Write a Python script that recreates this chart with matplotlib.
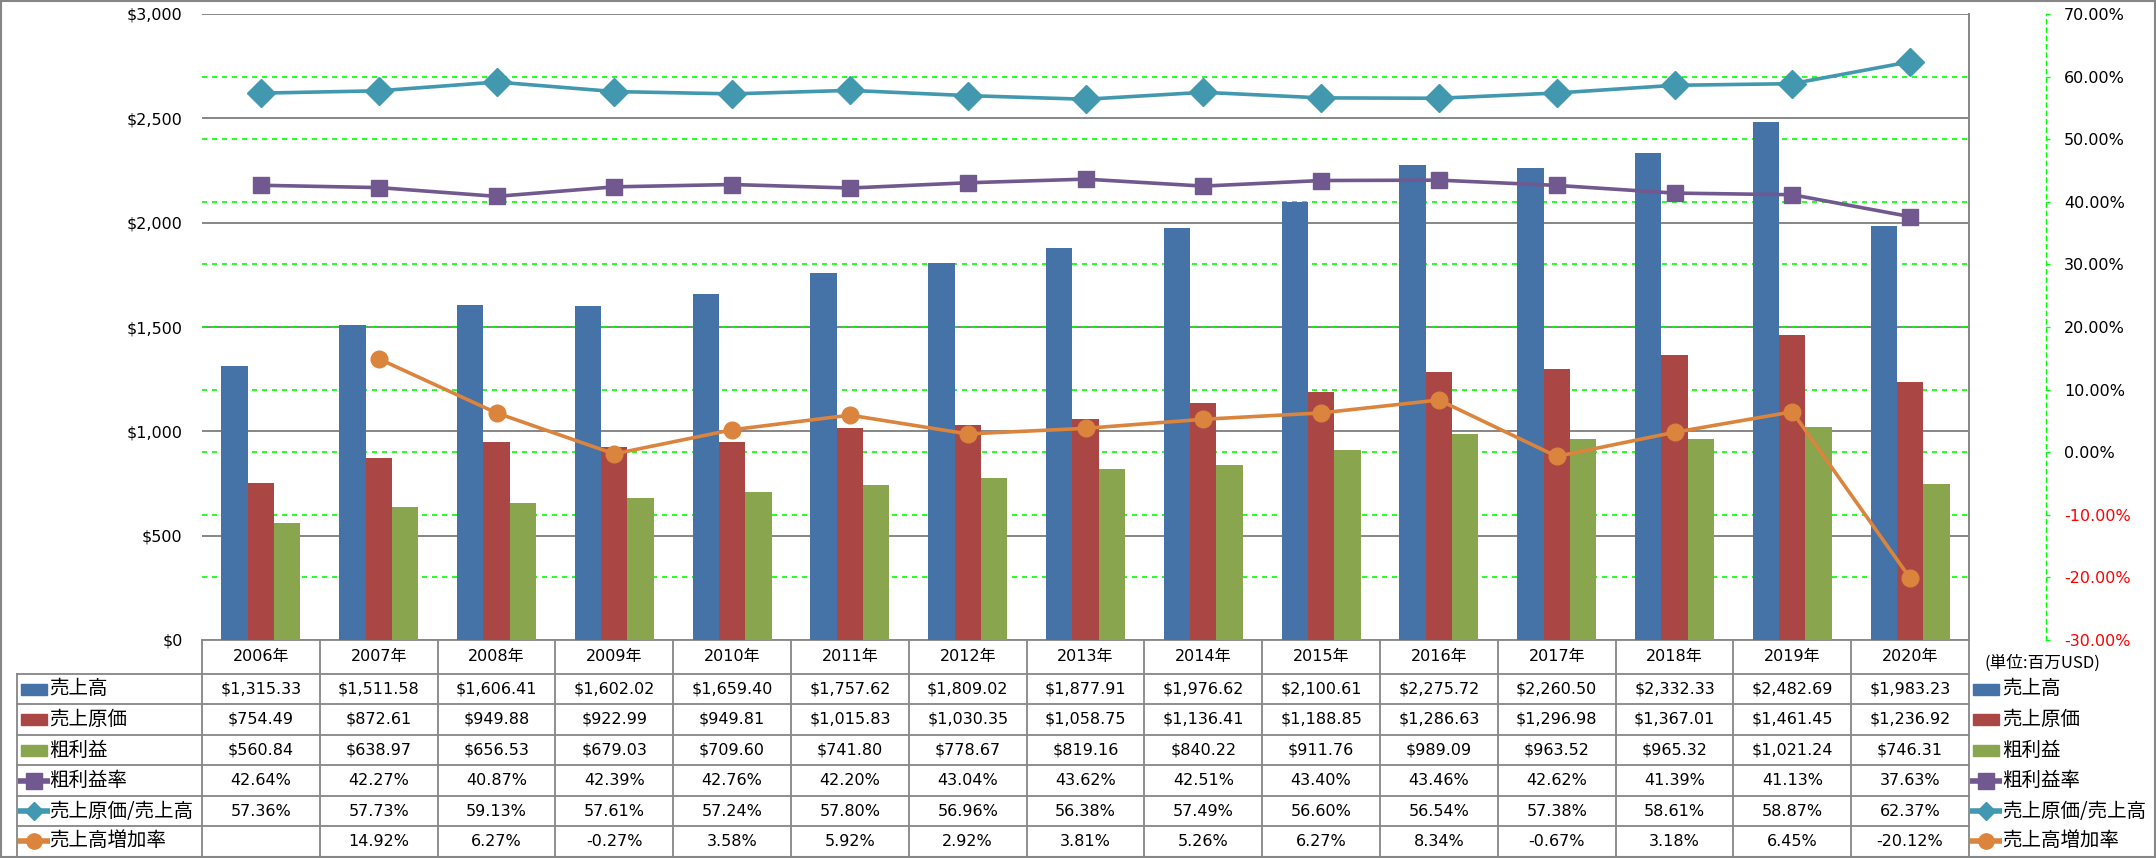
import matplotlib
matplotlib.use('Agg')
import matplotlib.pyplot as plt
from matplotlib.patches import Rectangle
import numpy as np

# data
years = ['2006年', '2007年', '2008年', '2009年', '2010年', '2011年', '2012年', '2013年',
         '2014年', '2015年', '2016年', '2017年', '2018年', '2019年', '2020年']
sales = [1315.33, 1511.58, 1606.41, 1602.02, 1659.40, 1757.62, 1809.02, 1877.91,
         1976.62, 2100.61, 2275.72, 2260.50, 2332.33, 2482.69, 1983.23]
cogs = [754.49, 872.61, 949.88, 922.99, 949.81, 1015.83, 1030.35, 1058.75,
        1136.41, 1188.85, 1286.63, 1296.98, 1367.01, 1461.45, 1236.92]
gross = [560.84, 638.97, 656.53, 679.03, 709.60, 741.80, 778.67, 819.16,
         840.22, 911.76, 989.09, 963.52, 965.32, 1021.24, 746.31]
gross_margin = [42.64, 42.27, 40.87, 42.39, 42.76, 42.20, 43.04, 43.62,
                42.51, 43.40, 43.46, 42.62, 41.39, 41.13, 37.63]
cogs_ratio = [57.36, 57.73, 59.13, 57.61, 57.24, 57.80, 56.96, 56.38,
              57.49, 56.60, 56.54, 57.38, 58.61, 58.87, 62.37]
sales_growth = [np.nan, 14.92, 6.27, -0.27, 3.58, 5.92, 2.92, 3.81,
                5.26, 6.27, 8.34, -0.67, 3.18, 6.45, -20.12]

usd_ticks = [0, 500, 1000, 1500, 2000, 2500, 3000]
pct_ticks = [-30, -20, -10, 0, 10, 20, 30, 40, 50, 60, 70]

BLUE = '#4572A7'
RED = '#AA4643'
GREEN = '#89A54E'
PURPLE = '#71588F'
TEAL = '#4198AF'
ORANGE = '#DB843D'
GRAY = '#868686'
LIME = '#00FF00'

NUM_FONT = ['DejaVu Sans', 'Noto Sans CJK JP']
JP_FONT = ['Noto Sans CJK JP', 'DejaVu Sans']

W, H = 2156, 858
fig = plt.figure(figsize=(W / 100, H / 100), dpi=100)

# plot area (pixels)
PL, PR, PT, PB = 202, 1969, 14, 640
ax = fig.add_axes([PL / W, 1 - PB / H, (PR - PL) / W, (PB - PT) / H])
x = np.arange(len(years))
bw = 0.224

ax.bar(x - bw, sales, bw, color=BLUE, zorder=3)
ax.bar(x, cogs, bw, color=RED, zorder=3)
ax.bar(x + bw, gross, bw, color=GREEN, zorder=3)

ax.set_xlim(-0.5, len(years) - 0.5)
ax.set_ylim(usd_ticks[0], usd_ticks[-1])
ax.set_xticks([])
ax.set_yticks(usd_ticks)
ax.set_yticklabels([f'${v:,}' for v in usd_ticks], fontsize=11.5, family='DejaVu Sans')
ax.yaxis.tick_right()
ax.tick_params(axis='y', length=0, pad=14)
ax.set_axisbelow(True)
ax.yaxis.grid(True, color=GRAY, lw=1.4)
for s in ['left', 'top', 'bottom']:
    ax.spines[s].set_visible(False)
ax.spines['right'].set_color(GRAY)
ax.spines['right'].set_linewidth(1.4)

# green dashed grid of the percent axis, mapped onto the $ axis (kept behind bars)
pmin, pmax = pct_ticks[0], pct_ticks[-1]
for p in pct_ticks[1:-1]:
    yy = (p - pmin) / (pmax - pmin) * usd_ticks[-1]
    ax.axhline(yy, color=LIME, lw=1.2, ls=(0, (3, 3)), zorder=1)

# percent lines
ax2 = ax.twinx()
ax2.set_ylim(pmin, pmax)
ax2.plot(x, cogs_ratio, color=TEAL, lw=2.6, marker='D', ms=14, zorder=5)
ax2.plot(x, gross_margin, color=PURPLE, lw=2.6, marker='s', ms=12, zorder=5)
ax2.plot(x, sales_growth, color=ORANGE, lw=2.6, marker='o', ms=12, zorder=5)
for s in ['left', 'top', 'bottom']:
    ax2.spines[s].set_visible(False)
ax2.spines['right'].set_position(('outward', 55.4))
ax2.spines['right'].set_color(LIME)
ax2.spines['right'].set_linestyle((0, (3, 3)))
ax2.spines['right'].set_linewidth(1.0)
ax2.set_yticks(pct_ticks)
ax2.set_yticklabels([f'{p:.2f}%' for p in pct_ticks], fontsize=11.5, family='DejaVu Sans')
ax2.tick_params(axis='y', length=3, width=1, color=LIME, pad=10)
for lab, p in zip(ax2.get_yticklabels(), pct_ticks):
    lab.set_color('red' if p < 0 else 'black')

# data table drawn in pixel coordinates
tax = fig.add_axes([0, 0, 1, 1], zorder=-1)
tax.set_xlim(0, W)
tax.set_ylim(H, 0)
tax.axis('off')

edges = np.linspace(PL, PR, len(years) + 1)
row_y = [640, 674, 704, 735, 765, 796, 826, 856]
LEFT = 17
lkw = dict(color=GRAY, lw=1.3)

# horizontal lines
tax.plot([PL, PR], [row_y[0], row_y[0]], **lkw)
for yy in row_y[1:-1]:
    tax.plot([LEFT, PR], [yy, yy], **lkw)
# vertical lines
for ex in edges:
    tax.plot([ex, ex], [row_y[0], row_y[-1]], **lkw)
tax.plot([LEFT, LEFT], [row_y[1], row_y[-1]], **lkw)

centers = (edges[:-1] + edges[1:]) / 2
hy = (row_y[0] + row_y[1]) / 2
for cx, yr in zip(centers, years):
    tax.text(cx, hy, yr, ha='center', va='center', fontsize=11.5, family=NUM_FONT)

rows = [
    ('売上高', 'bar', BLUE, None, [f'${v:,.2f}' for v in sales]),
    ('売上原価', 'bar', RED, None, [f'${v:,.2f}' for v in cogs]),
    ('粗利益', 'bar', GREEN, None, [f'${v:,.2f}' for v in gross]),
    ('粗利益率', 'line', PURPLE, 's', [f'{v:.2f}%' for v in gross_margin]),
    ('売上原価/売上高', 'line', TEAL, 'D', [f'{v:.2f}%' for v in cogs_ratio]),
    ('売上高増加率', 'line', ORANGE, 'o',
     ['' if np.isnan(v) else f'{v:.2f}%' for v in sales_growth]),
]


def legend_key(x0, cy, kind, color, marker):
    if kind == 'bar':
        tax.add_patch(Rectangle((x0, cy - 5.5), 26, 11, color=color))
    else:
        tax.plot([x0 - 3, x0 + 29], [cy, cy], color=color, lw=4, solid_capstyle='butt')
        tax.plot([x0 + 13], [cy], marker=marker, color=color,
                 ms=9.5 if marker == 'D' else 11)


for i, (name, kind, color, marker, vals) in enumerate(rows):
    cy = (row_y[i + 1] + row_y[i + 2]) / 2
    legend_key(21, cy, kind, color, marker)
    tax.text(49, cy, name, ha='left', va='center', fontsize=14, family=JP_FONT)
    for cx, v in zip(centers, vals):
        tax.text(cx, cy, v, ha='center', va='center', fontsize=11.5, family=NUM_FONT)
    # legend on the right of the table
    legend_key(1973, cy, kind, color, marker)
    tax.text(2002, cy, name, ha='left', va='center', fontsize=14, family=JP_FONT)

tax.text(1984, 663, '(単位:百万USD)', ha='left', va='center', fontsize=12, family=JP_FONT)

# outer chart border
tax.add_patch(Rectangle((0.5, 0.5), W - 1.5, H - 1.5, fill=False, edgecolor=GRAY, lw=1.5))

fig.savefig('out.png', dpi=100)
